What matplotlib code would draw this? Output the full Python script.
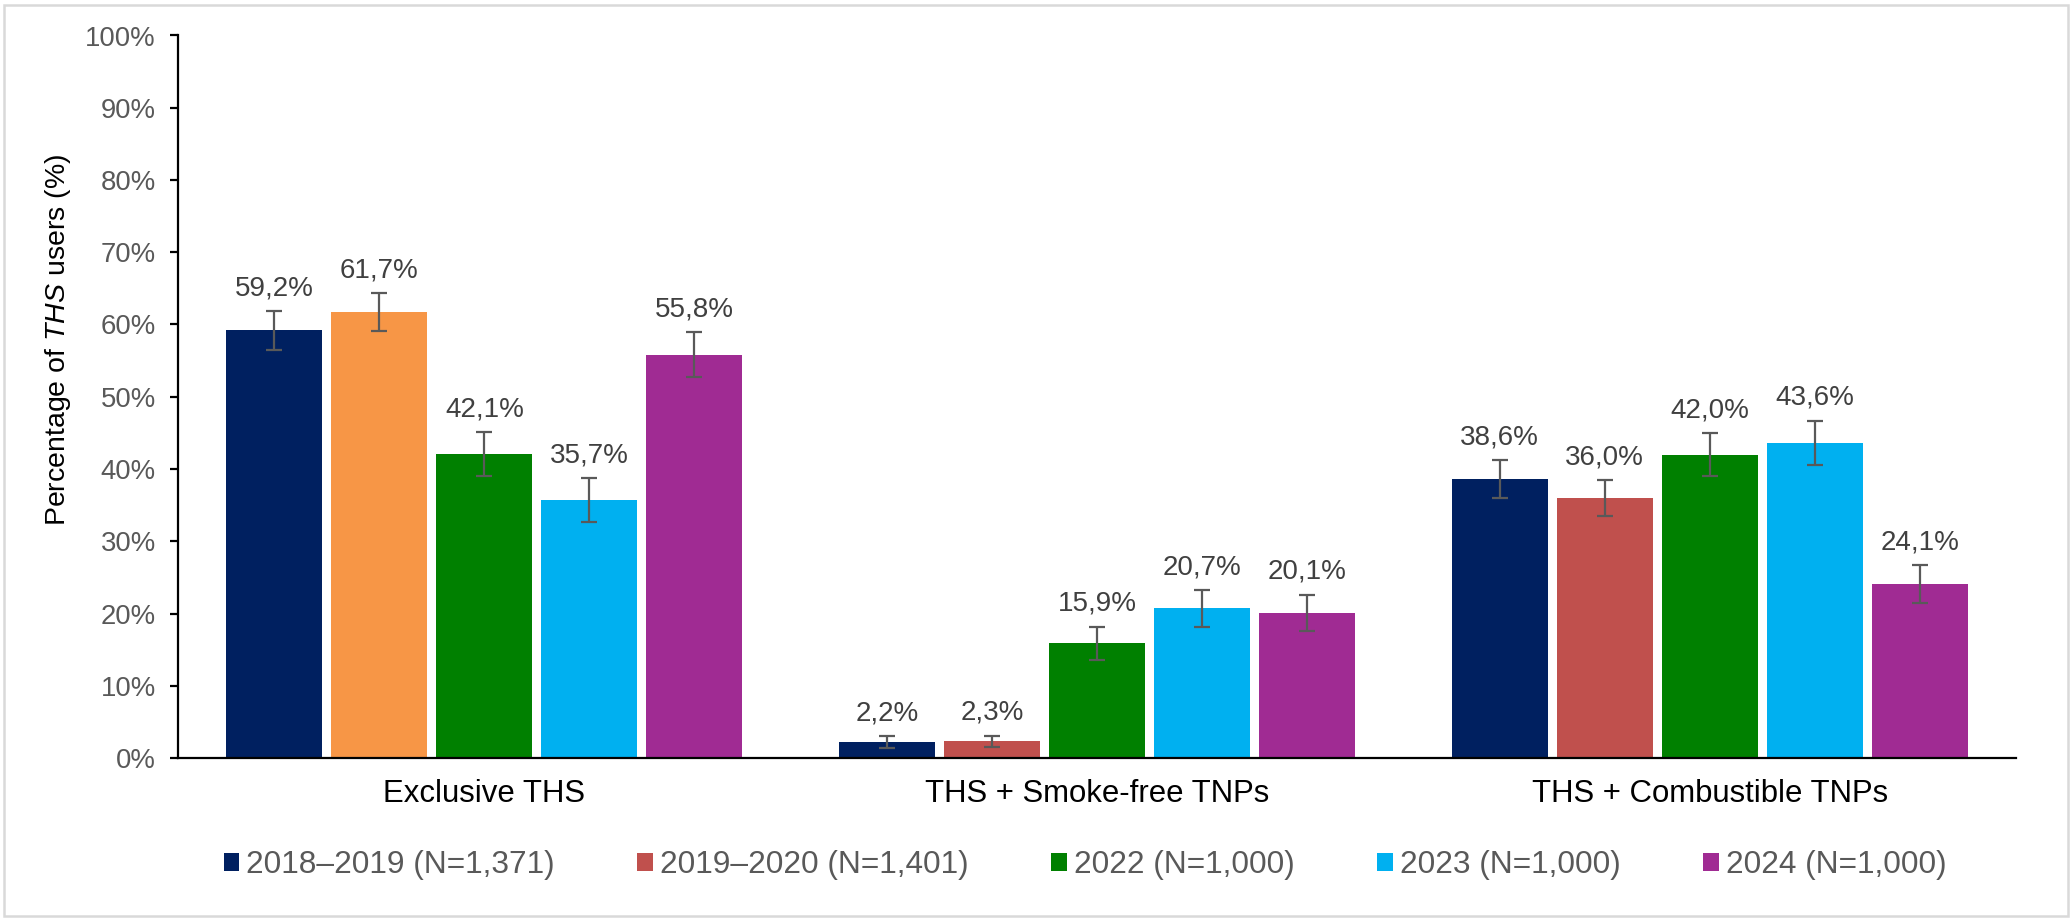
import numpy as np
import matplotlib.pyplot as plt
from matplotlib.patches import Patch, Rectangle

plt.rcParams['font.family'] = ['Liberation Sans', 'DejaVu Sans']
plt.rcParams['mathtext.fontset'] = 'custom'
plt.rcParams['mathtext.rm'] = 'Liberation Sans'
plt.rcParams['mathtext.it'] = 'Liberation Sans:italic'

categories = ["Exclusive THS", "THS + Smoke-free TNPs", "THS + Combustible TNPs"]
series = ["2018–2019 (N=1,371)", "2019–2020 (N=1,401)", "2022 (N=1,000)",
          "2023 (N=1,000)", "2024 (N=1,000)"]

# percentages per series, one value per category
v_2018 = [59.2, 2.2, 38.6]
v_2019 = [61.7, 2.3, 36.0]
v_2022 = [42.1, 15.9, 42.0]
v_2023 = [35.7, 20.7, 43.6]
v_2024 = [55.8, 20.1, 24.1]

# error bar half widths
err_2018 = [2.7, 0.8, 2.6]
err_2019 = [2.6, 0.8, 2.5]
err_2022 = [3.0, 2.3, 3.0]
err_2023 = [3.0, 2.5, 3.1]
err_2024 = [3.1, 2.5, 2.6]

values = [v_2018, v_2019, v_2022, v_2023, v_2024]
errors = [err_2018, err_2019, err_2022, err_2023, err_2024]
colors = ["#002060", "#C0504D", "#008000", "#00B0F0", "#A02B93"]
# one bar in the first group is drawn in orange in the original
point_colors = {(1, 0): "#F79646"}

W, H = 2072, 922
fig = plt.figure(figsize=(W / 100, H / 100), dpi=100)
ax = fig.add_axes([178 / W, 164 / H, (2016 - 178) / W, (758 - 35.5) / H])

x = np.arange(len(categories))
pitch = 0.1714
width = 0.157

for i, (vals, errs) in enumerate(zip(values, errors)):
    xs = x + (i - 2) * pitch
    cols = [point_colors.get((i, j), colors[i]) for j in range(len(categories))]
    ax.bar(xs, vals, width, color=cols, yerr=errs, ecolor="#595959",
           error_kw=dict(elinewidth=1.6, capsize=5.5, capthick=1.6))
    for xx, v, e in zip(xs, vals, errs):
        ax.annotate(f"{v:.1f}".replace(".", ",") + "%", (xx, v + e),
                    xytext=(0, 7), textcoords="offset points",
                    ha="center", va="bottom", fontsize=20, color="#404040")

ax.set_xlim(-0.5, 2.5)
ax.set_ylim(0, 100)
ax.set_yticks(np.arange(0, 101, 10))
ax.set_yticklabels([f"{t}%" for t in range(0, 101, 10)])
ax.set_xticks(x)
ax.set_xticklabels(categories)

for s in ["top", "right"]:
    ax.spines[s].set_visible(False)
for s in ["left", "bottom"]:
    ax.spines[s].set_linewidth(1.6)
    ax.spines[s].set_color("black")

ax.tick_params(axis="y", length=6, width=1.6, pad=10, labelsize=19.8,
               labelcolor="#595959", color="black")
ax.tick_params(axis="x", length=0, pad=15, labelsize=22.4, labelcolor="black")

fig.text(58 / W, (H - 340) / H, "Percentage of $\\mathit{THS}$ users (%)",
         rotation=90, ha="center", va="center", fontsize=20.5)

handles = [Patch(facecolor=c) for c in colors]
fig.legend(handles, series, loc="center", bbox_to_anchor=(0.5236, 0.0618),
           ncol=5, frameon=False, fontsize=22.8, handlelength=0.5,
           handleheight=0.5, handletextpad=0.22, columnspacing=2.6,
           labelcolor="#595959")

fig.patches.append(Rectangle((4 / W, 6 / H), 2064 / W, 911 / H,
                             transform=fig.transFigure, fill=False,
                             edgecolor="#d9d9d9", linewidth=1.8))

fig.savefig("out.png", dpi=100, facecolor="white")
